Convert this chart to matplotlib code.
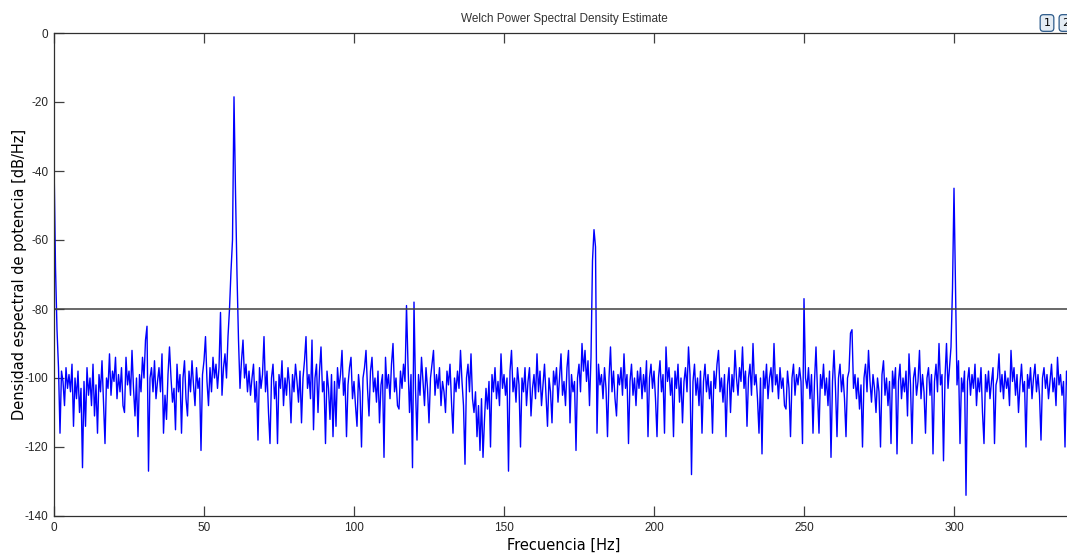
import numpy as np
import matplotlib.pyplot as plt

plt.rcParams['axes.unicode_minus'] = False

# Welch PSD estimate, every 0.5 Hz (dB/Hz)
f_step = 0.5
psd_db = [
    -37, -68, -86, -97, -116, -98, -101, -108, -97, -103,      # 0 Hz
    -99, -104, -96, -114, -100, -106, -98, -110, -103, -126,   # 5
    -101, -114, -97, -105, -100, -108, -96, -111, -102, -116,  # 10
    -99, -104, -95, -107, -119, -100, -103, -93, -105, -98,    # 15
    -101, -94, -106, -99, -104, -97, -108, -110, -94, -102,    # 20
    -98, -105, -92, -103, -111, -100, -117, -99, -104, -94,    # 25
    -100, -89, -85, -127, -100, -97, -104, -95, -106, -101,    # 30
    -97, -104, -93, -116, -105, -112, -99, -91, -100, -107,    # 35
    -103, -115, -96, -104, -99, -116, -100, -95, -106, -111,   # 40
    -98, -104, -95, -102, -108, -97, -103, -100, -121, -99,    # 45
    -95, -88, -101, -108, -97, -104, -94, -100, -96, -103,     # 50
    -97, -81, -105, -97, -93, -100, -88, -80, -69, -60,        # 55
    -18.5, -46, -70, -89, -103, -95, -89, -100, -96, -104,     # 60
    -98, -105, -100, -96, -107, -101, -118, -97, -103, -99,    # 65
    -88, -104, -98, -110, -119, -100, -96, -106, -101, -119,   # 70
    -99, -103, -95, -108, -100, -105, -97, -102, -113, -99,    # 75
    -104, -96, -101, -107, -98, -113, -100, -95, -88, -103,    # 80
    -99, -106, -89, -115, -100, -96, -110, -98, -91, -104,     # 85
    -101, -119, -98, -103, -112, -99, -117, -101, -114, -97,   # 90
    -103, -99, -92, -105, -100, -117, -102, -97, -94, -106,    # 95
    -101, -108, -114, -99, -104, -120, -100, -97, -92, -103,   # 100
    -111, -98, -94, -104, -100, -107, -98, -113, -102, -99,    # 105
    -123, -94, -103, -99, -106, -96, -90, -104, -100, -108,    # 110
    -109, -98, -103, -96, -101, -79, -96, -110, -99, -126,     # 115
    -78, -103, -118, -99, -105, -94, -101, -108, -97, -103,    # 120
    -113, -100, -96, -92, -105, -99, -103, -97, -108, -101,    # 125
    -104, -110, -98, -102, -96, -107, -116, -100, -104, -98,   # 130
    -103, -92, -101, -108, -125, -100, -96, -104, -93, -106,   # 135
    -110, -104, -117, -108, -121, -106, -123, -112, -103, -109,  # 140
    -101, -120, -99, -104, -97, -106, -101, -108, -93, -103,   # 145
    -99, -105, -100, -127, -98, -92, -104, -100, -107, -97,    # 150
    -102, -120, -100, -104, -97, -108, -101, -97, -111, -103,  # 155
    -99, -106, -93, -104, -98, -108, -102, -96, -105, -114,    # 160
    -100, -104, -113, -98, -102, -97, -107, -100, -93, -105,   # 165
    -101, -108, -97, -92, -113, -99, -104, -101, -121, -100,   # 170
    -96, -104, -90, -98, -92, -101, -95, -108, -94, -66,       # 175
    -57, -62, -116, -96, -102, -99, -106, -97, -103, -117,     # 180
    -100, -91, -104, -98, -106, -111, -99, -102, -97, -105,    # 185
    -93, -103, -99, -119, -101, -96, -105, -100, -108, -98,    # 190
    -103, -97, -106, -99, -104, -95, -117, -100, -96, -103,    # 195
    -98, -106, -117, -100, -95, -104, -99, -116, -91, -101,    # 200
    -97, -105, -100, -117, -98, -103, -96, -107, -100, -113,   # 205
    -101, -97, -104, -91, -99, -128, -101, -96, -105, -100,    # 210
    -108, -98, -116, -101, -96, -104, -99, -106, -101, -116,   # 215
    -98, -103, -96, -92, -104, -100, -107, -99, -117, -102,    # 220
    -97, -110, -99, -104, -92, -100, -105, -97, -101, -91,     # 225
    -103, -98, -114, -100, -96, -105, -90, -102, -99, -106,    # 230
    -116, -100, -122, -98, -103, -96, -106, -100, -97, -104,   # 235
    -90, -102, -99, -106, -97, -103, -100, -108, -109, -98,    # 240
    -103, -117, -100, -96, -105, -99, -102, -97, -101, -119,   # 245
    -77, -100, -103, -97, -106, -99, -116, -101, -91, -104,    # 250
    -116, -99, -103, -96, -105, -100, -108, -98, -123, -101,   # 255
    -92, -103, -117, -100, -96, -104, -99, -106, -117, -100,   # 260
    -98, -87, -86, -103, -99, -106, -100, -109, -102, -120,    # 265
    -100, -96, -104, -92, -101, -107, -99, -103, -110, -100,   # 270
    -104, -120, -99, -95, -105, -100, -108, -101, -119, -98,   # 275
    -103, -97, -122, -101, -96, -106, -100, -104, -98, -111,   # 280
    -93, -102, -119, -100, -97, -105, -101, -92, -106, -99,    # 285
    -104, -116, -100, -97, -105, -99, -122, -101, -96, -104,   # 290
    -90, -102, -99, -124, -100, -90, -103, -97, -91, -74,      # 295
    -45, -74, -102, -95, -119, -100, -104, -98, -134, -101,    # 300
    -97, -105, -99, -103, -96, -108, -100, -104, -97, -110,    # 305
    -119, -99, -104, -98, -106, -101, -97, -119, -102, -100,   # 310
    -93, -104, -99, -106, -98, -103, -100, -108, -92, -101,    # 315
    -97, -105, -99, -110, -102, -96, -104, -101, -120, -99,    # 320
    -103, -97, -106, -100, -96, -104, -99, -105, -118, -100,   # 325
    -97, -103, -99, -106, -101, -96, -104, -100, -108, -94,    # 330
    -102, -99, -105, -101, -120, -98, -103, -100, -106, -99,   # 335
    -102,                                                      # 340
]
freq = np.arange(len(psd_db)) * f_step

threshold_db = -80
x_ticks = [0, 50, 100, 150, 200, 250, 300]
y_ticks = [-140, -120, -100, -80, -60, -40, -20, 0]

W, H = 1067, 555
fig = plt.figure(figsize=(W / 100, H / 100), dpi=100)
fig.patch.set_facecolor('white')

# axes run a little past the right edge, as in the screenshot
ax = fig.add_axes([54 / W, 39 / H, 1020 / W, 483 / H])
ax.plot(freq, psd_db, color='#0000ff', lw=1.0)
ax.axhline(threshold_db, color='#404040', lw=1.1)

ax.set_xlim(0, 340)
ax.set_ylim(-140, 0)
ax.set_xticks(x_ticks)
ax.set_yticks(y_ticks)
ax.tick_params(direction='in', length=7.5, width=0.9, top=True, right=False,
               colors='#404040', labelcolor='#262626', labelsize=8.5, pad=4)
for lab in ax.get_xticklabels() + ax.get_yticklabels():
    lab.set_family('Liberation Sans')
for sp in ax.spines.values():
    sp.set_color('#303030')
    sp.set_linewidth(0.9)

ax.set_title('Welch Power Spectral Density Estimate', fontsize=8.5,
             family='Liberation Sans', color='#333333', pad=8)
ax.set_xlabel('Frecuencia [Hz]', fontsize=10.5, labelpad=3)
ax.set_ylabel('Densidad espectral de potencia [dB/Hz]', fontsize=10.5)
ax.yaxis.set_label_coords(-27 / 1020, 0.5)

# little figure-toolbar buttons in the corner
btn = dict(boxstyle='round,pad=0.3', fc='#e4ecf4', ec='#2c5a8a', lw=0.9)
fig.text(1047 / W, 1 - 23 / H, '1', fontsize=8, ha='center', va='center', bbox=btn)
fig.text(1066 / W, 1 - 23 / H, '2', fontsize=8, ha='center', va='center', bbox=btn)

fig.savefig('out.png', dpi=100, facecolor='white')
